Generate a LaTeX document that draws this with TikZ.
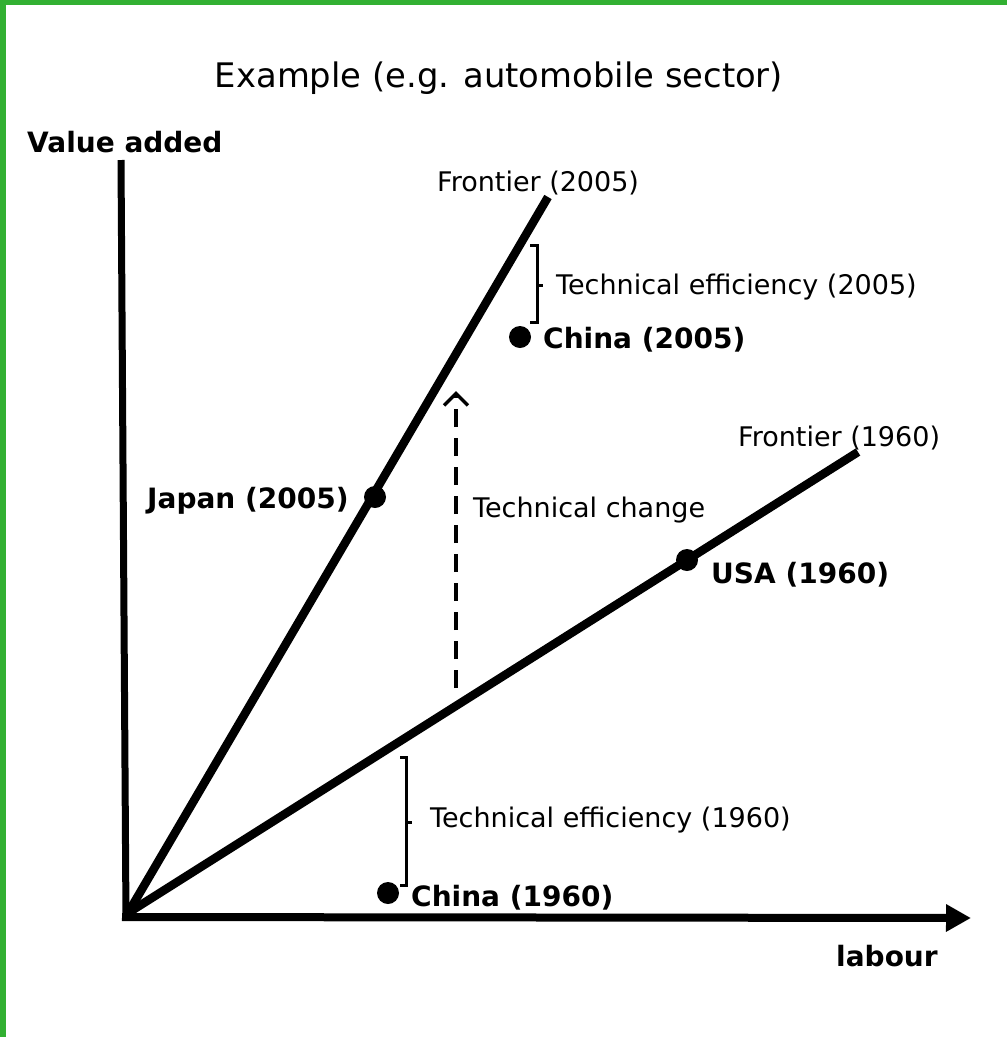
\documentclass[tikz,border=0pt]{standalone}
\usepackage{fontspec}
\setmainfont{DejaVu Sans}
\usetikzlibrary{arrows.meta}
\definecolor{frame}{HTML}{32B032}
\tikzset{
  lbl/.style={inner sep=0pt, anchor=base west, font=\fontsize{27}{30}\selectfont},
  blbl/.style={lbl, font=\fontsize{28}{31}\selectfont\bfseries},
  thick line/.style={line width=8.5pt},
  dot/.style={circle, fill=black, inner sep=0pt, minimum size=22pt},
  brace/.style={line width=3pt},
}
\begin{document}
\begin{tikzpicture}[x=1pt,y=-1pt]
\useasboundingbox (0,0) rectangle (1007,1037);
\fill[white] (0,0) rectangle (1007,1037);
\fill[frame] (0,0) rectangle (1007,5);
\fill[frame] (0,0) rectangle (6,1037);

% title
\node[inner sep=0pt, anchor=base, font=\fontsize{33.8}{38}\selectfont] (title) at (499,87) {Example (e.g. automobile sector)};

% axes
\coordinate (ytop) at (121,160);
\coordinate (ybot) at (126,920);
\coordinate (o) at (128,913);
\coordinate (xl) at (122,917);
\coordinate (xr) at (971,918);
\draw[line width=7pt] (ytop) -- (ybot);
\draw[line width=8pt, -{Triangle[length=25pt,width=26pt]}] (xl) -- (xr);
\node[blbl] (yl) at (27,152) {Value added};
\node[blbl] (xlab) at (836,966) {labour};

% frontiers
\coordinate (f05) at (548,197);
\coordinate (f60) at (858,452);
\draw[thick line] (o) -- (f05);
\draw[thick line] (o) -- (f60);
\node[lbl] (lf05) at (437,191) {Frontier (2005)};
\node[lbl] (lf60) at (738,446) {Frontier (1960)};

% points
\node[dot] (japan) at (375,497) {};
\node[dot] (usa) at (687,560) {};
\node[dot] (ch05) at (520,337) {};
\node[dot] (ch60) at (388,893) {};
\node[blbl] (ljapan) at (147,508) {Japan (2005)};
\node[blbl] (lusa) at (711,583) {USA (1960)};
\node[blbl] (lch05) at (543,348) {China (2005)};
\node[blbl] (lch60) at (411,906) {China (1960)};

% technical change
\coordinate (tcb) at (456,688);
\coordinate (tct) at (456,391);
\draw[line width=4pt, dash pattern=on 18pt off 11pt, -{Straight Barb[length=12pt,width=24pt,line width=3.5pt]}] (tcb) -- (tct);
\node[lbl] (ltc) at (473,517) {Technical change};

% brackets
\draw[brace] (530,245) -- (537,245) -- (537,322) -- (530,322);
\draw[brace] (537,285) -- (543,285);
\node[lbl] (lte05) at (556,294) {Technical efficiency (2005)};
\draw[brace] (400,757) -- (406,757) -- (406,885) -- (400,885);
\draw[brace] (406,822) -- (412,822);
\node[lbl] (lte60) at (430,827) {Technical efficiency (1960)};
\end{tikzpicture}
\end{document}
